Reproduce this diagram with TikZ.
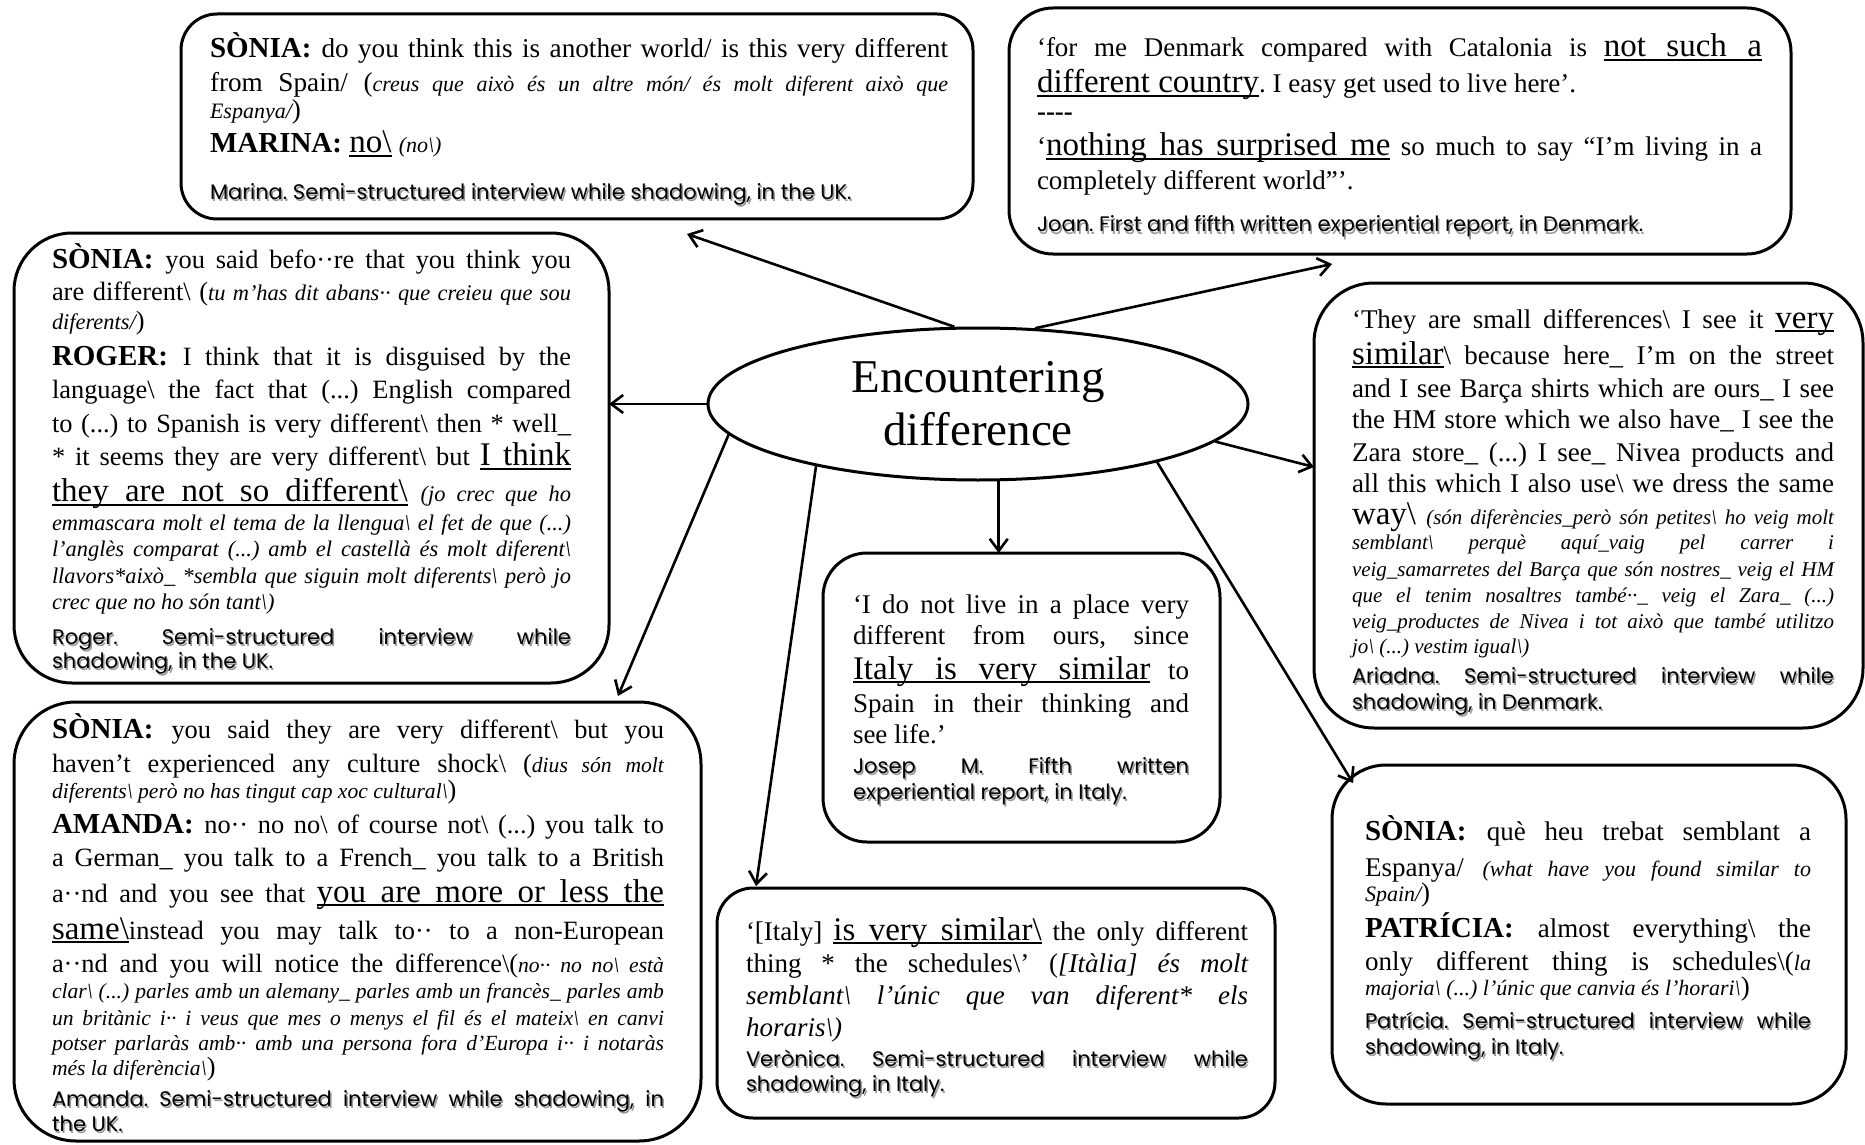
\documentclass[tikz,border=0pt]{standalone}
\usepackage{fontspec}
\setmainfont{Liberation Serif}
\newfontfamily\srcfont{Poppins}
\usetikzlibrary{shapes.geometric,arrows.meta,calc}
\hbadness=10000
\frenchspacing

% font switches: body, Catalan gloss, speaker name
\newcommand\bsl{\textbackslash}
\newcommand\nsz{14.5}
\newcommand\usz{16.5}
\newcommand\tx{\fontsize{\bsz}{1}\selectfont\mdseries\upshape}
\newcommand\ca{\fontsize{\isz}{1}\selectfont\mdseries\itshape}
\newcommand\nm{\fontsize{\nsz}{1}\selectfont\bfseries\upshape}
% underlined emphasis whose spaces stretch with the line
\newcommand\ulword[1]{\setbox0\hbox{#1}\rlap{\vrule height -1.2pt depth 2.1pt width\wd0}\box0}
\newcommand\ulspace{\leaders\hrule height -1.2pt depth 2.1pt\hskip\fontdimen2\font plus\fontdimen3\font minus\fontdimen4\font}
\def\ulwords#1 #2\ulend{\ulword{#1}\ifx\relax#2\relax\else\ulspace\ulwords#2\ulend\fi}
\newcommand\ulb[1]{{\fontsize{\usz}{1}\selectfont\mdseries\upshape\ulwords#1 \ulend}}
% one justified line / one ragged line, #1 = distance from the previous baseline
\newcommand\lnj[2]{{\baselineskip=#1\relax\hbox to\hsize{#2}}}
\newcommand\lnr[2]{{\baselineskip=#1\relax\hbox to\hsize{#2\hfil}}}
% a block of lines: width, body size, gloss size, lines
\newcommand\blk[4]{\vtop{\hsize=#1\relax\def\bsz{#2}\def\isz{#3}\lineskiplimit=-\maxdimen\tx #4}}
\newcommand\srcblk[2]{\vtop{\hsize=#1\relax\lineskiplimit=-\maxdimen\srcfont\fontsize{10.5}{1}\selectfont #2}}
% source line with a soft grey shadow
\newcommand\srcat[4]{%
  \node[srcsh] (#1s) at ($(#2)+(1.5,2.5)$) {\srcblk{#3}{#4}};
  \node[srcnode] (#1) at (#2) {\srcblk{#3}{#4}};}

\tikzset{
  qbox/.style={draw, line width=1.5pt, rounded corners=#1, inner sep=0pt, outer sep=0pt},
  qbox/.default=18pt,
  txt/.style={anchor=base west, inner sep=0pt, outer sep=0pt},
  srcnode/.style={anchor=base west, inner sep=0pt, outer sep=0pt},
  srcsh/.style={srcnode, text=black!40},
  arr/.style={line width=1.3pt, -{Straight Barb[length=6pt,width=9pt]}},
}

\begin{document}
\begin{tikzpicture}[x=0.5pt,y=-0.5pt]
\fill[white] (0,0) rectangle (1865,1145);
\useasboundingbox (0,0) rectangle (1865,1145);

% central idea
\node[ellipse, draw, line width=1.5pt, minimum width=270pt, minimum height=76pt, inner sep=0pt,
      align=center, font=\fontsize{23.5}{26.5}\selectfont] (ell) at (978,404) {Encountering\\difference};

% frames
\node[qbox=18pt, minimum width=396pt,   minimum height=102.5pt] (m)  at (577,116.5) {};
\node[qbox=22pt, minimum width=391pt,   minimum height=123pt]   (jo) at (1400,131) {};
\node[qbox=29pt, minimum width=297.5pt, minimum height=225pt]   (r)  at (311.5,458) {};
\node[qbox=31pt, minimum width=343.5pt, minimum height=219.5pt] (a)  at (357.5,921.5) {};
\node[qbox=22pt, minimum width=198.5pt, minimum height=144.5pt] (j)  at (1021.5,697.5) {};
\node[qbox=30pt, minimum width=274.5pt, minimum height=222.5pt] (ar) at (1588.5,505.5) {};
\node[qbox=27pt, minimum width=257pt,   minimum height=169.5pt] (p)  at (1589,934.5) {};
\node[qbox=18pt, minimum width=279pt,   minimum height=115pt]   (v)  at (996,1003) {};

% Marina
\node[txt] (mt) at (210,58) {\blk{369pt}{13.6}{11}{%
\lnj{0pt}{\nm SÒNIA: \tx do you think this is another world/ is this very different}
\lnj{17pt}{\tx from Spain/ (\ca creus que això és un altre món/ és molt diferent això que}
\lnr{13.5pt}{\ca Espanya/\tx)}
\lnr{17pt}{\nm MARINA: \ulb{no\bsl} {\ca(no\bsl)}}}};
\srcat{ms}{210,199}{369pt}{\lnr{0pt}{Marina. Semi-structured interview while shadowing, in the UK.}}

% Joan
\node[txt] (jot) at (1037,57) {\blk{362.5pt}{13.5}{11}{%
\lnj{0pt}{\tx ‘for me Denmark compared with Catalonia is \ulb{not such a}}
\lnr{18pt}{\ulb{different country}\tx. I easy get used to live here’.}
\lnr{14pt}{\tx\bfseries -\kern0pt-\kern0pt-\kern0pt-}
\lnj{17.5pt}{\tx ‘\ulb{nothing has surprised me} so much to say “I’m living in a}
\lnr{17pt}{\tx completely different world”’.}}};
\srcat{jos}{1037,232}{362.5pt}{\lnr{0pt}{Joan. First and fifth written experiential report, in Denmark.}}

% Roger
\node[txt] (rt) at (52,268) {\blk{259.5pt}{13.2}{11.2}{%
\lnj{0pt}{\nm SÒNIA: \tx you said befo··re that you think you}
\lnj{16.5pt}{\tx are different\bsl{} (\ca tu m'has dit abans·· que creieu que sou}
\lnr{14.5pt}{\ca diferents/\tx)}
\lnj{18pt}{\nm ROGER: \tx I think that it is disguised by the}
\lnj{16.5pt}{\tx language\bsl{} the fact that (...) English compared}
\lnj{16.5pt}{\tx to (...) to Spanish is very different\bsl{} then * well\_}
\lnj{17pt}{\tx * it seems they are very different\bsl{} but \ulb{I think}}
\lnj{18pt}{\ulb{they are not so different\bsl} \ca(jo crec que ho}
\lnj{14.5pt}{\ca emmascara molt el tema de la llengua\bsl{} el fet de que (...)}
\lnj{13pt}{\ca l'anglès comparat (...) amb el castellà és molt diferent\bsl}
\lnj{13.5pt}{\ca llavors*això\_ *sembla que siguin molt diferents\bsl{} però jo}
\lnr{13pt}{\ca crec que no ho són tant\bsl)}}};
\srcat{rs}{52,644}{259.5pt}{\lnj{0pt}{Roger. Semi-structured interview while}
\lnr{12pt}{shadowing, in the UK.}}

% Amanda
\node[txt] (at) at (52,738) {\blk{306pt}{13.2}{10.8}{%
\lnj{0pt}{\nm SÒNIA: \tx you said they are very different\bsl{} but you}
\lnj{17pt}{\tx haven’t experienced any culture shock\bsl{} (\ca dius són molt}
\lnr{13pt}{\ca diferents\bsl{} però no has tingut cap xoc cultural\bsl\tx)}
\lnj{17.5pt}{\nm AMANDA: \tx no·· no no\bsl{} of course not\bsl{} (...) you talk to}
\lnj{16.5pt}{\tx a German\_ you talk to a French\_ you talk to a British}
\lnj{18pt}{\tx a··nd and you see that \ulb{you are more or less the}}
\lnj{18.5pt}{\ulb{same\bsl}\tx instead you may talk to·· to a non-European}
\lnj{16.5pt}{\tx a··nd and you will notice the difference\bsl(\ca no·· no no\bsl{} està}
\lnj{13pt}{\ca clar\bsl{} (...) parles amb un alemany\_ parles amb un francès\_ parles amb}
\lnj{13.5pt}{\ca un britànic i·· i veus que mes o menys el fil és el mateix\bsl{} en canvi}
\lnj{12.5pt}{\ca potser parlaràs amb·· amb una persona fora d'Europa i·· i notaràs}
\lnr{12.5pt}{\ca més la diferència\bsl\tx)}}};
\srcat{as}{52,1106}{306pt}{\lnj{0pt}{Amanda. Semi-structured interview while shadowing, in}
\lnr{12.5pt}{the UK.}}

% Josep M.
\node[txt] (jt) at (853,613) {\blk{168pt}{13.5}{11}{%
\lnj{0pt}{\tx ‘I do not live in a place very}
\lnj{15.5pt}{\tx different from ours, since}
\lnj{17.5pt}{\ulb{Italy is very similar} \tx to}
\lnj{16.5pt}{\tx Spain in their thinking and}
\lnr{15.5pt}{\tx see life.’}}};
\srcat{js}{853,773}{168pt}{\lnj{0pt}{Josep M. Fifth written}
\lnr{13pt}{experiential report, in Italy.}}

% Ariadna
\node[txt] (art) at (1352,328) {\blk{241pt}{13.5}{10.5}{%
\lnj{0pt}{\tx ‘They are small differences\bsl{} I see it \ulb{very}}
\lnj{18pt}{\ulb{similar}\tx\bsl{} because here\_ I’m on the street}
\lnj{17pt}{\tx and I see Barça shirts which are ours\_ I see}
\lnj{15.5pt}{\tx the HM store which we also have\_ I see the}
\lnj{16pt}{\tx Zara store\_ (...) I see\_ Nivea products and}
\lnj{15.5pt}{\tx all this which I also use\bsl{} we dress the same}
\lnj{16.5pt}{{\fontsize{\usz}{1}\selectfont way\bsl} \ca(són diferències\_però són petites\bsl{} ho veig molt}
\lnj{12.5pt}{\ca semblant\bsl{} perquè aquí\_vaig pel carrer i}
\lnj{13.5pt}{\ca veig\_samarretes del Barça que són nostres\_ veig el HM}
\lnj{13pt}{\ca que el tenim nosaltres també··\_ veig el Zara\_ (...)}
\lnj{13pt}{\ca veig\_productes de Nivea i tot això que també utilitzo}
\lnr{12.5pt}{\ca jo\bsl{} (...) vestim igual\bsl)}}};
\srcat{ars}{1352,683}{241pt}{\lnj{0pt}{Ariadna. Semi-structured interview while}
\lnr{13pt}{shadowing, in Denmark.}}

% Patrícia
\node[txt] (pt) at (1365,840) {\blk{223pt}{13.5}{11}{%
\lnj{0pt}{\nm SÒNIA: \tx què heu trebat semblant a}
\lnj{18pt}{\tx Espanya/ \ca(what have you found similar to}
\lnr{12.5pt}{\ca Spain/\tx)}
\lnj{18pt}{\nm PATRÍCIA: \tx almost everything\bsl{} the}
\lnj{16.5pt}{\tx only different thing is schedules\bsl(\ca la}
\lnr{12.5pt}{\ca majoria\bsl{} (...) l’únic que canvia és l’horari\bsl\tx)}}};
\srcat{ps}{1365,1028}{223pt}{\lnj{0pt}{Patrícia. Semi-structured interview while}
\lnr{13pt}{shadowing, in Italy.}}

% Verònica
\node[txt] (vt) at (746,940) {\blk{251pt}{13.5}{13.5}{%
\lnj{0pt}{\tx ‘[Italy] \ulb{is very similar\bsl} \tx the only different}
\lnj{16pt}{\tx thing * the schedules\bsl’ (\ca [Itàlia] és molt}
\lnj{16pt}{\ca semblant\bsl{} l'únic que van diferent* els}
\lnr{16pt}{\ca horaris\bsl)}}};
\srcat{vs}{746,1066}{251pt}{\lnj{0pt}{Verònica. Semi-structured interview while}
\lnr{12.5pt}{shadowing, in Italy.}}

% arrow tips
\coordinate (tm)  at (687,234);
\coordinate (tjo) at (1332,264);
\coordinate (ta)  at (618,696);
\coordinate (tv)  at (756,886);
\coordinate (tar) at (1314,467);
\coordinate (tp)  at (1353,783);

% connectors
\draw[arr] (ell.107) -- (tm);
\draw[arr] (ell.53)  -- (tjo);
\draw[arr] (ell.west) -- (ell.west -| r.east);
\draw[arr] (ell.187) -- (ta);
\draw[arr] (ell.201) -- (tv);
\draw[arr] (ell.285) -- (ell.285 |- j.north);
\draw[arr] (ell.351) -- (tar);
\draw[arr] (ell.342) -- (tp);
\end{tikzpicture}
\end{document}
